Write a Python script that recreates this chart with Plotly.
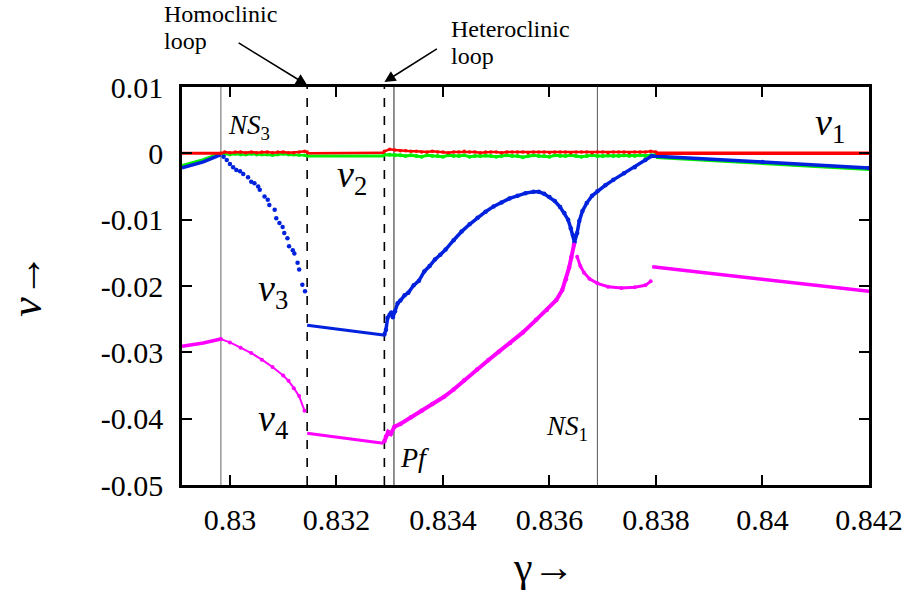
import plotly.graph_objects as go

# ---------------- data ----------------
x_ticks = [0.83, 0.832, 0.834, 0.836, 0.838, 0.84, 0.842]
x_tick_text = ["0.83", "0.832", "0.834", "0.836", "0.838", "0.84", "0.842"]
y_ticks = [0.01, 0.0, -0.01, -0.02, -0.03, -0.04, -0.05]
y_tick_text = ["0.01", "0", "-0.01", "-0.02", "-0.03", "-0.04", "-0.05"]

# bifurcation points (vertical markers)
ns3_x = 0.82983
homoclinic_x = 0.83145
heteroclinic_x = 0.83290
pf_x = 0.83308
ns1_x = 0.83690

# nu1 (red)
red_a_x = [0.8291, 0.82983]
red_a_y = [0.0, 0.0]
red_b_x = [0.82983, 0.8299, 0.8300, 0.8301, 0.8302, 0.8303, 0.8304, 0.8305, 0.8306, 0.8307,
           0.8308, 0.8309, 0.8310, 0.8311, 0.8312, 0.8313, 0.8314, 0.83145]
red_b_y = [0.0000, 0.0002, 0.0001, 0.0002, 0.0002, 0.0001, 0.0002, 0.0001, 0.0002, 0.0002,
           0.0001, 0.0002, 0.0002, 0.0001, 0.0001, 0.0002, 0.0003, 0.0002]
red_c_x = [0.83145, 0.8322, 0.8329]
red_c_y = [0.0000, 0.0000, 0.0001]
noise_x = [0.8329, 0.8330, 0.8331, 0.8332, 0.8333, 0.8334, 0.8335, 0.8336, 0.8337, 0.8338,
           0.8339, 0.8340, 0.8341, 0.8342, 0.8343, 0.8344, 0.8345, 0.8346, 0.8347, 0.8348,
           0.8349, 0.8350, 0.8351, 0.8352, 0.8353, 0.8354, 0.8355, 0.8356, 0.8357, 0.8358,
           0.8359, 0.8360, 0.8361, 0.8362, 0.8363, 0.8364, 0.8365, 0.8366, 0.8367, 0.8368,
           0.8369, 0.8370, 0.8371, 0.8372, 0.8373, 0.8374, 0.8375, 0.8376, 0.8377, 0.8378,
           0.8379, 0.8380]
red_d_y = [0.0003, 0.0006, 0.0005, 0.0004, 0.0004, 0.0003, 0.0003, 0.0002, 0.0002, 0.0003,
           0.0002, 0.0002, 0.0001, 0.0002, 0.0002, 0.0003, 0.0002, 0.0002, 0.0001, 0.0002,
           0.0002, 0.0002, 0.0001, 0.0002, 0.0002, 0.0002, 0.0002, 0.0001, 0.0002, 0.0002,
           0.0002, 0.0001, 0.0002, 0.0002, 0.0002, 0.0001, 0.0002, 0.0002, 0.0002, 0.0001,
           0.0002, 0.0002, 0.0001, 0.0002, 0.0002, 0.0002, 0.0001, 0.0002, 0.0002, 0.0002,
           0.0003, 0.0002]
red_e_x = [0.8380, 0.8420]
red_e_y = [0.0, 0.0]

# nu2 (green)
green_a_x = [0.8291, 0.8295, 0.82983]
green_a_y = [-0.0019, -0.0010, 0.0000]
green_b_y = [0.0000, -0.0001, -0.0002, -0.0001, -0.0002, -0.0002, -0.0001, -0.0002, -0.0002, -0.0002,
             -0.0003, -0.0002, -0.0001, -0.0002, -0.0002, -0.0003, -0.0003, -0.0004]
green_c_x = [0.83145, 0.8322, 0.8329]
green_c_y = [-0.0004, -0.0004, -0.0004]
green_d_y = [-0.0002, -0.0002, -0.0003, -0.0003, -0.0004, -0.0003, -0.0004, -0.0005, -0.0003, -0.0004,
             -0.0004, -0.0005, -0.0003, -0.0004, -0.0004, -0.0003, -0.0005, -0.0004, -0.0004, -0.0003,
             -0.0004, -0.0005, -0.0004, -0.0003, -0.0004, -0.0004, -0.0006, -0.0004, -0.0003, -0.0004,
             -0.0004, -0.0005, -0.0003, -0.0004, -0.0004, -0.0003, -0.0004, -0.0005, -0.0004, -0.0003,
             -0.0004, -0.0004, -0.0003, -0.0004, -0.0004, -0.0003, -0.0004, -0.0004, -0.0003, -0.0004,
             -0.0003, -0.0002]
green_e_x = [0.8380, 0.8420]
green_e_y = [-0.0006, -0.0024]

# nu3 (blue)
blue_a_x = [0.8291, 0.8295, 0.82983]
blue_a_y = [-0.0022, -0.0013, -0.0002]
blue_b_x = [0.82988, 0.82994, 0.83000, 0.83006, 0.83012, 0.83019, 0.83025, 0.83034, 0.83040, 0.83046,
            0.83053, 0.83056, 0.83065, 0.83071, 0.83074, 0.83084, 0.83087, 0.83093, 0.83099, 0.83102,
            0.83108, 0.83111, 0.83118, 0.83121, 0.83127, 0.83130, 0.83136, 0.83141]
blue_b_y = [-0.0005, -0.0010, -0.0016, -0.0021, -0.0025, -0.0027, -0.0031, -0.0036, -0.0043, -0.0045,
            -0.0050, -0.0055, -0.0065, -0.0070, -0.0078, -0.0085, -0.0098, -0.0105, -0.0111, -0.0120,
            -0.0128, -0.0140, -0.0146, -0.0151, -0.0165, -0.0175, -0.0198, -0.0208]
blue_c_x = [0.83145, 0.83288]
blue_c_y = [-0.0259, -0.0274]
blue_d_x = [0.83290, 0.83293, 0.83296, 0.83300, 0.83303, 0.83306, 0.83310, 0.83315, 0.83320, 0.83328,
            0.83335, 0.83345, 0.83355, 0.83365, 0.83375, 0.83385, 0.83395, 0.83405, 0.83420, 0.83435,
            0.83450, 0.83465, 0.83480, 0.83495, 0.83510, 0.83525, 0.83540, 0.83555, 0.83570, 0.83580,
            0.83590, 0.83600, 0.83610, 0.83620, 0.83628, 0.83635, 0.83640, 0.83644, 0.83647,
            0.83652, 0.83656, 0.83662, 0.83670, 0.83680, 0.83690, 0.83705, 0.83720, 0.83740, 0.83760,
            0.83780, 0.83792, 0.8400, 0.8420]
blue_d_y = [-0.0273, -0.0266, -0.0248, -0.0243, -0.0240, -0.0247, -0.0238, -0.0226, -0.0222, -0.0214,
            -0.0210, -0.0199, -0.0192, -0.0178, -0.0170, -0.0160, -0.0153, -0.0145, -0.0131, -0.0118,
            -0.0107, -0.0097, -0.0088, -0.0080, -0.0074, -0.0068, -0.0064, -0.0060, -0.0058, -0.0058,
            -0.0061, -0.0066, -0.0072, -0.0081, -0.0090, -0.0100, -0.0113, -0.0123, -0.0134,
            -0.0120, -0.0102, -0.0087, -0.0075, -0.0064, -0.0057, -0.0048, -0.0040, -0.0030, -0.0021,
            -0.0010, -0.0004, -0.0013, -0.0022]

# nu4 (magenta)
mag_a_x = [0.8291, 0.8295, 0.82983]
mag_a_y = [-0.0291, -0.0286, -0.0280]
mag_b_x = [0.82983, 0.8300, 0.8302, 0.8304, 0.8306, 0.8308, 0.8310, 0.8311, 0.8312, 0.8313, 0.8314]
mag_b_y = [-0.0280, -0.0285, -0.0293, -0.0301, -0.0311, -0.0322, -0.0335, -0.0343, -0.0354, -0.0366, -0.0388]
mag_c_x = [0.83145, 0.83288]
mag_c_y = [-0.0422, -0.0437]
mag_d_x = [0.83290, 0.83293, 0.83297, 0.83302, 0.83309, 0.83320, 0.83340, 0.83360, 0.83380, 0.83402,
           0.83420, 0.83440, 0.83464, 0.83485, 0.83505, 0.83526, 0.83550, 0.83575, 0.83595, 0.83613,
           0.83624, 0.83631, 0.83637, 0.83641, 0.83646]
mag_d_y = [-0.0434, -0.0427, -0.0420, -0.0423, -0.0412, -0.0408, -0.0398, -0.0388, -0.0378, -0.0367,
           -0.0356, -0.0342, -0.0326, -0.0312, -0.0299, -0.0286, -0.0270, -0.0251, -0.0236, -0.0221,
           -0.0206, -0.0190, -0.0172, -0.0157, -0.0138]
mag_e_x = [0.83652, 0.83658, 0.83665, 0.83675, 0.83690, 0.83710, 0.83735, 0.83760, 0.83780, 0.83790]
mag_e_y = [-0.0156, -0.0170, -0.0180, -0.0189, -0.0196, -0.0201, -0.0203, -0.0202, -0.0199, -0.0193]
mag_f_x = [0.83793, 0.8420]
mag_f_y = [-0.0171, -0.0208]

RED = "#ff0000"
GREEN = "#00ee00"
BLUE = "#0022dd"
MAGENTA = "#ff00ff"
FONT = "Liberation Serif, Times New Roman, Times, DejaVu Serif, serif"

fig = go.Figure()


def add(x, y, color, mode="lines", width=3.5, size=3.5):
    fig.add_trace(go.Scatter(
        x=x, y=y, mode=mode,
        line=dict(color=color, width=width),
        marker=dict(color=color, size=size),
        showlegend=False, hoverinfo="skip"))


# green first (under blue)
add(green_a_x, green_a_y, GREEN)
add(red_b_x, green_b_y, GREEN, "lines+markers", 2.5, 3.5)
add(green_c_x, green_c_y, GREEN, "lines", 3)
add(noise_x, green_d_y, GREEN, "lines+markers", 3, 4)
add(green_e_x, green_e_y, GREEN, "lines", 3.5)

# blue
add(blue_a_x, blue_a_y, BLUE)
add(blue_b_x, blue_b_y, BLUE, "markers", size=4.5)
add(blue_c_x, blue_c_y, BLUE, "lines", 3)
add(blue_d_x, blue_d_y, BLUE, "lines+markers", 3.5, 4.5)

# magenta
add(mag_a_x, mag_a_y, MAGENTA)
add(mag_b_x, mag_b_y, MAGENTA, "lines+markers", 2, 4)
add(mag_c_x, mag_c_y, MAGENTA, "lines", 3)
add(mag_d_x, mag_d_y, MAGENTA, "lines+markers", 4, 4.5)
add(mag_e_x, mag_e_y, MAGENTA, "lines+markers", 3, 4)
add(mag_f_x, mag_f_y, MAGENTA, "lines", 3.5)

# red
add(red_a_x, red_a_y, RED, "lines", 3)
add(red_b_x, red_b_y, RED, "lines+markers", 2.5, 3.5)
add(red_c_x, red_c_y, RED, "lines", 2.5)
add(noise_x, red_d_y, RED, "lines+markers", 2.5, 3.5)
add(red_e_x, red_e_y, RED, "lines", 3.5)

# vertical bifurcation lines
shapes = []
for xv, col, dash, w in [(ns3_x, "#888888", "solid", 1.3),
                         (homoclinic_x, "black", "dash", 1.6),
                         (heteroclinic_x, "black", "dash", 1.6),
                         (pf_x, "#222222", "solid", 1.0),
                         (ns1_x, "#555555", "solid", 1.0)]:
    shapes.append(dict(type="line", xref="x", yref="paper", x0=xv, x1=xv, y0=0, y1=1,
                       line=dict(color=col, width=w, dash=dash), layer="below"))

annotations = []


def txt(x, y, text, size, xref="x", yref="y", xanchor="center", yanchor="middle", angle=0):
    annotations.append(dict(x=x, y=y, xref=xref, yref=yref, text=text, showarrow=False,
                            xanchor=xanchor, yanchor=yanchor, textangle=angle,
                            font=dict(family=FONT, size=size, color="black")))


txt(0.83035, 0.0040, "<i>NS</i><sub>3</sub>", 27)
txt(0.83633, -0.0414, "<i>NS</i><sub>1</sub>", 27)
txt(0.83347, -0.0458, "<i>Pf</i>", 28)
txt(0.84127, 0.0043, "<i>ν</i><sub>1</sub>", 38)
txt(0.83230, -0.0035, "<i>ν</i><sub>2</sub>", 38)
txt(0.83080, -0.0207, "<i>ν</i><sub>3</sub>", 38)
txt(0.83080, -0.0404, "<i>ν</i><sub>4</sub>", 38)


# header texts (paper coords: plot area 182..877 x, 87..485 y)
def px2paper_x(px):
    return (px - 182) / 695.0


def px2paper_y(py):
    return (485 - py) / 398.0


txt(px2paper_x(162), px2paper_y(14), "Homoclinic", 24, "paper", "paper", "left")
txt(px2paper_x(162), px2paper_y(41), "loop", 24, "paper", "paper", "left")
txt(px2paper_x(452), px2paper_y(29), "Heteroclinic", 24, "paper", "paper", "left")
txt(px2paper_x(452), px2paper_y(56), "loop", 24, "paper", "paper", "left")

# axis titles
txt(px2paper_x(548), px2paper_y(567), "γ→", 42, "paper", "paper")
txt(px2paper_x(24), px2paper_y(285), "<i>ν</i>→", 44, "paper", "paper", angle=-90)

# arrows
annotations.append(dict(x=homoclinic_x, y=px2paper_y(85), xref="x", yref="paper",
                        ax=-70, ay=-43, showarrow=True, arrowhead=2, arrowsize=1.4,
                        arrowwidth=1.6, arrowcolor="black", text=""))
annotations.append(dict(x=heteroclinic_x, y=px2paper_y(82), xref="x", yref="paper",
                        ax=54, ay=-34, showarrow=True, arrowhead=2, arrowsize=1.4,
                        arrowwidth=1.6, arrowcolor="black", text=""))

axis_common = dict(showline=True, linecolor="black", linewidth=2.5, mirror="ticks",
                   ticks="inside", ticklen=10, tickwidth=2, tickcolor="black",
                   showgrid=False, zeroline=False,
                   tickfont=dict(family=FONT, size=30, color="black"))

fig.update_layout(
    width=915, height=593,
    margin=dict(l=182, r=38, t=87, b=108),
    paper_bgcolor="white", plot_bgcolor="white",
    font=dict(family=FONT, color="black"),
    xaxis=dict(range=[0.8291, 0.842], tickvals=x_ticks, ticktext=x_tick_text,
               ticklabelstandoff=6, **axis_common),
    yaxis=dict(range=[-0.05, 0.01], tickvals=y_ticks, ticktext=y_tick_text,
               ticklabelstandoff=10, **axis_common),
    shapes=shapes,
    annotations=annotations,
)

fig.write_html("out.html", config={"displayModeBar": False},
               post_script="document.body.style.margin='0';document.body.style.overflow='hidden';")
